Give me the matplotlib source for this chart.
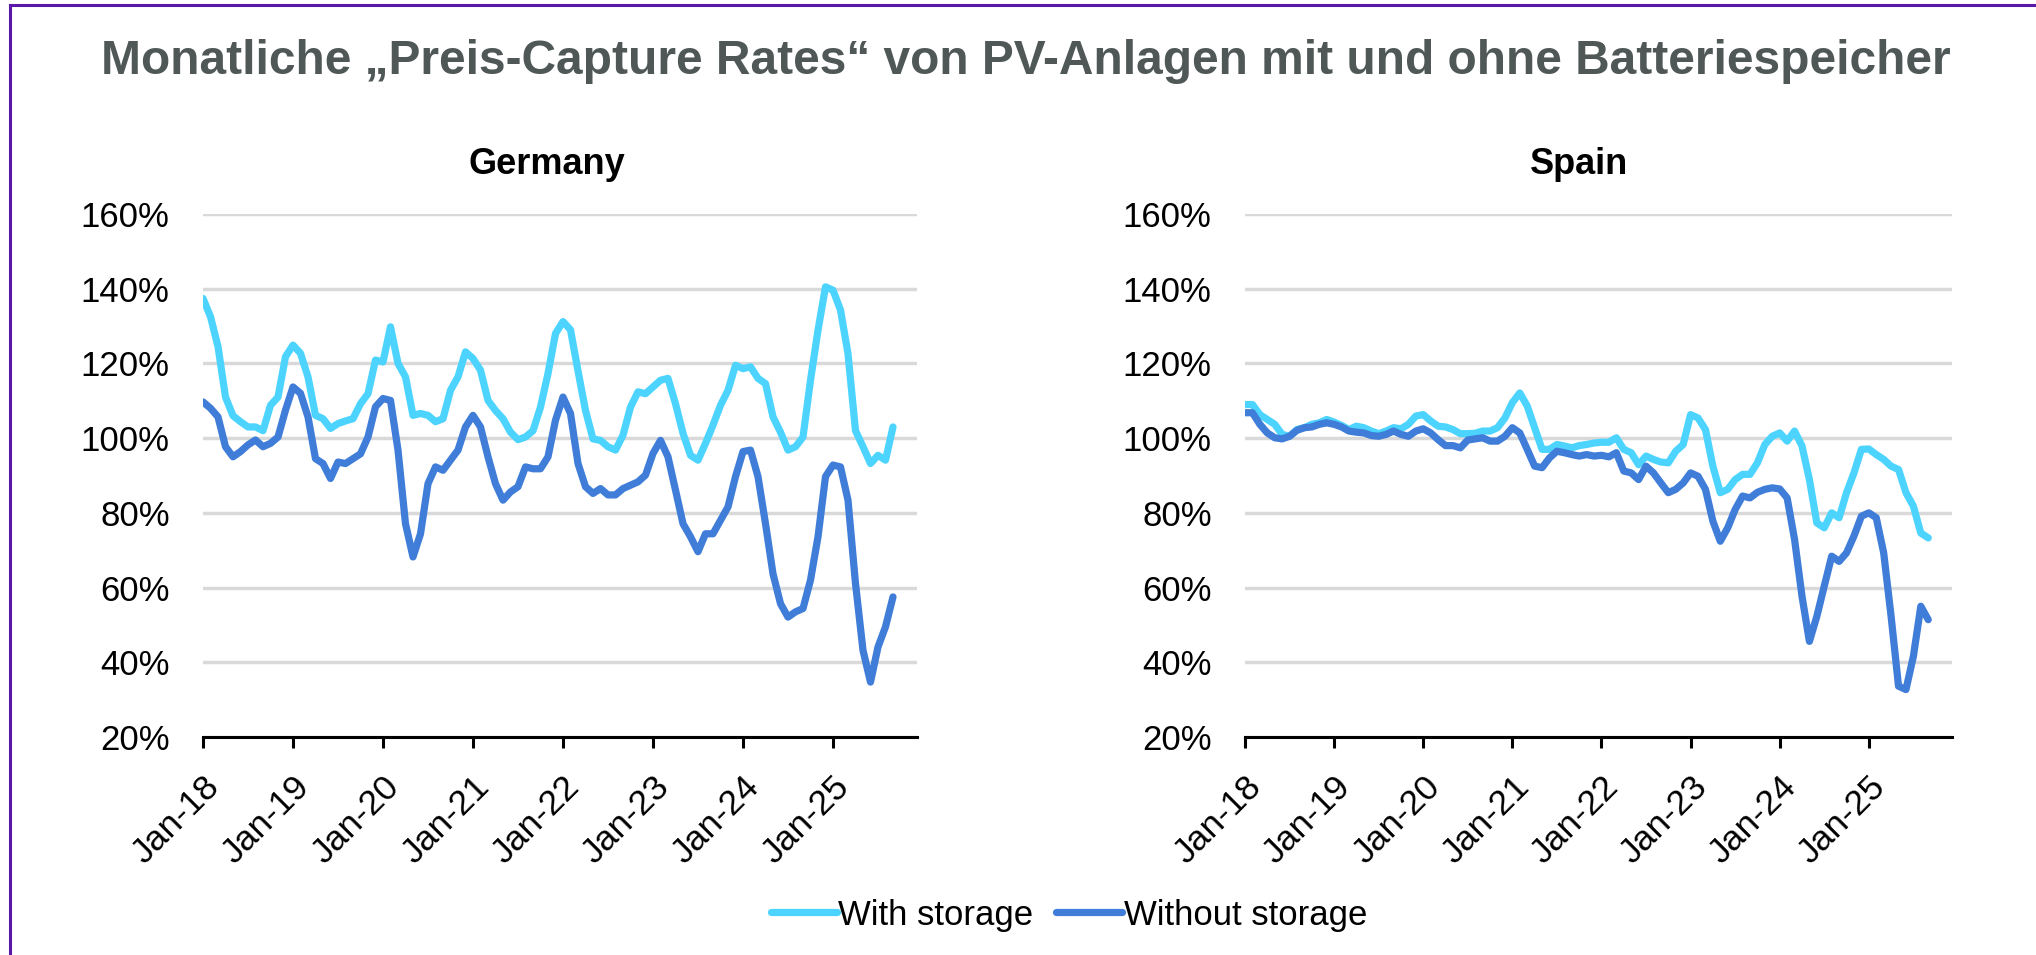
import matplotlib.pyplot as plt
from matplotlib.lines import Line2D

plt.rcParams['font.family'] = ['Liberation Sans', 'DejaVu Sans']

# monthly values Jan-18 .. Sep-25 (capture rate in %)
years = ['Jan-18', 'Jan-19', 'Jan-20', 'Jan-21', 'Jan-22', 'Jan-23', 'Jan-24', 'Jan-25']

ger_with = [137.4, 132.5, 124.5, 111, 106, 104.4, 103, 103, 102, 108.8, 111, 121.8,
            124.9, 122.7, 116.4, 106.1, 105.2, 102.6, 103.9, 104.6, 105.2, 109.2, 111.9, 120.9,
            120.4, 129.8, 120, 116.4, 106.1, 106.6, 106.1, 104.4, 105.2, 112.8, 116.4, 123.1,
            121.3, 118.2, 110.1, 107.4, 105.2, 101.6, 99.6, 100.3, 102, 108.3, 117.3, 128,
            131.2, 129, 118, 107.4, 99.8, 99.4, 97.7, 96.8, 100.8, 108.3, 112.4, 111.9,
            113.7, 115.5, 116, 109.2, 101.3, 95.4, 94.1, 98.6, 103.5, 108.8, 112.8, 119.5,
            118.6, 119.1, 116, 114.6, 105.7, 101.6, 96.8, 97.7, 100.3, 115.5, 128.9, 140.5,
            139.6, 134.3, 122.6, 102, 97.7, 93.2, 95.4, 94.1, 103]

ger_without = [109.7, 108, 105.7, 97.7, 95, 96.4, 98.2, 99.5, 97.7, 98.6, 100.3, 107.5,
               113.7, 112, 105.7, 94.5, 93.2, 89.2, 93.6, 93.2, 94.5, 95.8, 100.3, 108.4,
               110.6, 110.1, 96.8, 77.1, 68.2, 74.4, 87.8, 92.3, 91.4, 94.1, 96.8, 103,
               106.1, 103, 95, 87.8, 83.4, 85.6, 87, 92.3, 91.8, 91.8, 95, 104.8,
               111, 106.6, 93.2, 87, 85.2, 86.5, 84.8, 84.8, 86.5, 87.4, 88.3, 90.1,
               95.9, 99.4, 95, 86.1, 77.1, 73.6, 69.6, 74.4, 74.4, 78, 81.6, 89.7,
               96.4, 96.8, 89.7, 77.1, 63.7, 55.7, 52.1, 53.5, 54.4, 62, 73.6, 89.7,
               92.8, 92.3, 83.4, 61.1, 43.2, 34.7, 44.1, 49.5, 57.5]

esp_with = [109, 109, 106.3, 105, 103.7, 101, 100.5, 102.3, 102.8, 103.7, 104.1, 105,
            104.3, 103.4, 102.3, 103.2, 102.8, 101.9, 101.2, 101.9, 102.8, 102.5, 103.7, 105.9,
            106.3, 104.6, 103.2, 103, 102.3, 101.2, 101.2, 101.3, 101.9, 101.9, 102.8, 105.4,
            109.5, 112.1, 108.6, 102.8, 97, 97, 98.3, 97.9, 97.4, 98, 98.3, 98.7,
            98.9, 98.9, 100.1, 97, 96.1, 92.9, 95.2, 94.3, 93.6, 93.4, 96.5, 98.3,
            106.3, 105.4, 102.3, 92.5, 85.4, 86.3, 88.9, 90.3, 90.3, 93.4, 98.3, 100.5,
            101.4, 99.2, 101.9, 97.9, 88.9, 77.3, 76, 80, 78.7, 85.4, 90.7, 97,
            97.1, 95.6, 94.3, 92.5, 91.6, 85.4, 81.8, 74.6, 73.3]

esp_without = [106.8, 106.8, 103.7, 101.4, 100.1, 99.8, 100.5, 102.1, 102.8, 103, 103.7, 104.1,
               103.7, 103, 101.9, 101.6, 101.4, 100.7, 100.5, 101, 101.9, 101, 100.5, 101.9,
               102.5, 101.4, 99.6, 98, 98, 97.4, 99.5, 99.8, 100.1, 99.2, 99.2, 100.5,
               102.8, 101.4, 97, 92.5, 92.1, 94.7, 96.5, 96.1, 95.6, 95.2, 95.6, 95.2,
               95.4, 95, 96.1, 91.2, 90.7, 88.9, 92.5, 90.7, 88, 85.4, 86.3, 88,
               90.7, 89.8, 86.3, 77.8, 72.4, 76, 80.9, 84.5, 84, 85.5, 86.3, 86.7,
               86.4, 84, 72.9, 57.7, 45.6, 52.3, 60.4, 68.4, 67, 69.3, 73.8, 79.1,
               80, 78.7, 69.3, 52.3, 33.6, 32.7, 41.6, 55, 51.4]

c_with = '#4CD4FF'
c_without = '#3F7DD8'

fig = plt.figure(figsize=(20.36, 9.55), dpi=100)
W, H = 2036, 955


def panel(left_px, right_px, title, title_x, s_with, s_without):
    ax = fig.add_axes([left_px / W, 1 - 737 / H, (right_px - left_px) / W, 523 / H])
    months = list(range(len(s_with)))
    ax.plot(months, s_with, color=c_with, lw=5.2, solid_joinstyle='round',
            solid_capstyle='round', label='With storage', zorder=3)
    ax.plot(months, s_without, color=c_without, lw=5.2, solid_joinstyle='round',
            solid_capstyle='round', label='Without storage', zorder=3)
    ax.set_xlim(0, 95.2)
    ax.set_ylim(20, 160)
    ax.set_yticks(range(20, 161, 20))
    ax.set_yticklabels([f'{v}%' for v in range(20, 161, 20)], fontsize=25)
    ax.set_xticks(range(0, 96, 12))
    ax.set_xticklabels(years, fontsize=25.5, rotation=45, ha='right', va='top',
                       rotation_mode='anchor')
    ax.yaxis.grid(True, color='#D9D9D9', lw=2.5)
    ax.set_axisbelow(True)
    for s in ['left', 'right', 'top']:
        ax.spines[s].set_visible(False)
    ax.spines['bottom'].set_linewidth(2.2)
    ax.spines['bottom'].set_zorder(4)
    ax.tick_params(axis='y', length=0, pad=24)
    ax.tick_params(axis='x', length=8, width=2.2, pad=16)
    fig.text(title_x / W, 1 - 165 / H, title, fontsize=26, fontweight='bold',
             ha='center', va='center')
    return ax


ax1 = panel(203, 917, 'Germany', 547, ger_with, ger_without)
ax2 = panel(1245, 1952, 'Spain', 1579, esp_with, esp_without)

fig.text(1026 / W, 1 - 62 / H,
         'Monatliche \u201ePreis-Capture Rates\u201c von PV-Anlagen mit und ohne Batteriespeicher',
         fontsize=34.5, fontweight='bold', color='#4F5757', ha='center', va='center')

handles, labels = ax1.get_legend_handles_labels()
fig.legend(handles, labels, loc='center', bbox_to_anchor=(1069 / W, 1 - 915 / H), ncol=2,
           frameon=False, fontsize=25, handlelength=1.9, handletextpad=0.05,
           columnspacing=0.65)

# purple frame (top and left)
fig.add_artist(Line2D([9.5 / W, 1], [1 - 5 / H, 1 - 5 / H], color='#5B17A8', lw=2.2))
fig.add_artist(Line2D([9.5 / W, 9.5 / W], [0, 1 - 5 / H], color='#5B17A8', lw=2.2))

fig.savefig('out.png', dpi=100)
